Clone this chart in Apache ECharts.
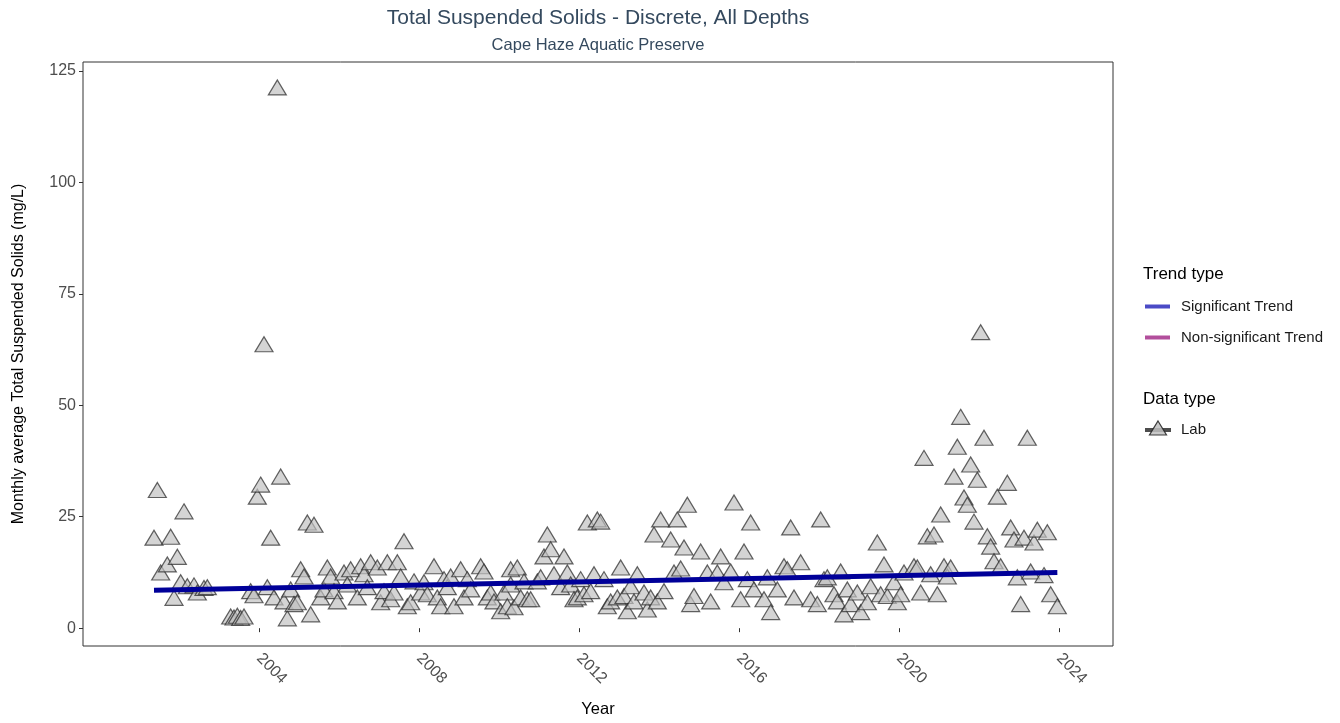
<!DOCTYPE html>
<html>
<head>
<meta charset="utf-8">
<title>Total Suspended Solids - Discrete, All Depths</title>
<script src="https://cdn.jsdelivr.net/npm/echarts@6/dist/echarts.min.js"></script>
<style>
  html, body { margin: 0; padding: 0; background: #ffffff; }
  #chart { width: 1340px; height: 723px; }
</style>
</head>
<body>
<div id="chart"></div>
<script>
// Monthly average TSS (mg/L), lab samples, Cape Haze Aquatic Preserve
const months = [
  '2001-05','2001-06','2001-07','2001-09','2001-10','2001-11','2001-12',
  '2002-01','2002-02','2002-03','2002-05','2002-06','2002-08','2002-09',
  '2003-04','2003-05','2003-06','2003-07','2003-08','2003-10','2003-11','2003-12',
  '2004-01','2004-02','2004-03','2004-04','2004-05','2004-06','2004-07','2004-08','2004-09','2004-10','2004-11','2004-12',
  '2005-01','2005-02','2005-03','2005-04','2005-05','2005-07','2005-08','2005-09','2005-10','2005-11','2005-12',
  '2006-02','2006-03','2006-04','2006-06','2006-07','2006-08','2006-09','2006-10','2006-12',
  '2007-01','2007-02','2007-03','2007-04','2007-05','2007-06','2007-07','2007-08','2007-09','2007-10','2007-11',
  '2008-01','2008-02','2008-03','2008-05','2008-06','2008-07','2008-08','2008-09','2008-10','2008-11',
  '2009-01','2009-02','2009-03','2009-04','2009-07','2009-08','2009-09','2009-10','2009-11',
  '2010-01','2010-02','2010-03','2010-04','2010-04','2010-05','2010-06','2010-07','2010-08','2010-09','2010-10','2010-12',
  '2011-01','2011-02','2011-03','2011-04','2011-05','2011-07','2011-08','2011-09','2011-10','2011-11','2011-12',
  '2012-01','2012-02','2012-03','2012-04','2012-05','2012-06','2012-07','2012-08','2012-09','2012-10','2012-12',
  '2013-01','2013-02','2013-03','2013-04','2013-05','2013-06','2013-08','2013-09','2013-10','2013-11','2013-12',
  '2014-01','2014-02','2014-04','2014-05','2014-06','2014-07','2014-08','2014-09','2014-10','2014-11',
  '2015-01','2015-03','2015-04','2015-06','2015-07','2015-08','2015-10','2015-11',
  '2016-01','2016-02','2016-03','2016-04','2016-05','2016-08','2016-09','2016-10','2016-12',
  '2017-02','2017-03','2017-04','2017-05','2017-07','2017-10','2017-12',
  '2018-01','2018-02','2018-03','2018-05','2018-06','2018-07','2018-08','2018-09','2018-10','2018-12',
  '2019-01','2019-03','2019-04','2019-06','2019-07','2019-08','2019-09','2019-11','2019-12',
  '2020-01','2020-02','2020-05','2020-06','2020-07','2020-08','2020-09','2020-10','2020-11','2020-12',
  '2021-01','2021-02','2021-03','2021-04','2021-05','2021-06','2021-07','2021-08','2021-09','2021-10','2021-11','2021-12',
  '2022-01','2022-02','2022-03','2022-04','2022-05','2022-06','2022-07','2022-09','2022-10','2022-11','2022-12',
  '2023-01','2023-02','2023-03','2023-04','2023-05','2023-06','2023-08','2023-09','2023-10','2023-12'
];
const tss = [
  20.3, 31.0, 12.5, 14.3, 20.5, 6.8, 16.0,
  10.3, 26.2, 9.4, 9.6, 8.0, 9.0, 9.2,
  2.6, 2.4, 2.8, 2.3, 2.6, 8.3, 7.4, 29.5,
  32.2, 63.7, 9.2, 20.3, 6.9, 121.3, 34.0, 6.0, 2.2, 8.7, 5.4, 5.8,
  13.2, 11.6, 23.7, 3.1, 23.2, 6.9, 8.7, 13.6, 11.6, 8.3, 6.0,
  12.5, 9.8, 13.2, 6.9, 13.9, 12.1, 9.2, 14.8, 13.6,
  5.8, 8.3, 14.8, 6.5, 8.0, 14.8, 11.6, 19.5, 4.9, 5.8, 10.5,
  8.0, 10.3, 7.6, 13.9, 6.9, 4.9, 11.0, 9.2, 11.6, 4.9,
  13.2, 6.9, 11.0, 8.7, 13.9, 12.7, 6.9, 8.0, 6.0,
  3.8, 8.0, 4.9, 13.2, 9.8, 4.7, 13.6, 6.9, 10.5, 6.5, 6.5, 10.5,
  11.4, 16.1, 21.0, 17.7, 12.1, 9.2, 16.1, 12.5, 9.8, 6.5, 6.9,
  11.0, 7.6, 23.7, 8.3, 12.1, 24.4, 23.9, 11.0, 4.9, 6.0, 6.9,
  13.6, 7.2, 3.8, 9.4, 6.0, 12.1, 8.0, 4.2, 6.9, 21.0, 6.0,
  24.4, 8.3, 19.9, 12.5, 24.4, 13.4, 18.1, 27.7, 5.4, 7.2,
  17.2, 12.5, 6.0, 12.5, 16.1, 10.3, 12.7, 28.2,
  6.5, 17.2, 11.0, 23.7, 8.7, 6.5, 11.4, 3.6, 8.7,
  13.9, 13.2, 22.6, 6.9, 14.8, 6.5, 5.4,
  24.4, 11.0, 11.4, 7.6, 6.0, 12.7, 3.1, 8.7, 5.4, 8.0,
  3.6, 5.8, 9.4, 19.2, 7.6, 14.3, 7.2, 10.3, 5.8,
  7.6, 12.5, 13.9, 13.6, 8.0, 38.2, 20.6, 12.1, 21.0, 7.6,
  25.5, 13.9, 11.6, 13.6, 34.0, 40.7, 47.4, 29.3, 27.7, 36.7, 23.9, 33.3,
  66.4, 42.7, 20.6, 18.3, 15.0, 29.5, 13.9, 32.6, 22.6, 19.9, 11.4,
  5.4, 20.3, 42.7, 12.7, 19.2, 22.1, 11.9, 21.5, 7.6, 4.9
];

// Fitted trend (significant), start and end of the record
const trendMonths = ['2001-05', '2023-12'];
const trendValues = [8.5, 12.5];

// Axis ticks
const yearTicks = [2004, 2008, 2012, 2016, 2020, 2024];
const valueTicks = [0, 25, 50, 75, 100, 125];

// "YYYY-MM" -> decimal year at mid-month
function toDecimalYear(s) {
  const [y, m] = s.split('-').map(Number);
  return y + (m - 0.5) / 12;
}

const labPoints = months.map((m, i) => [toDecimalYear(m), tss[i]]);
const trendPoints = trendMonths.map((m, i) => [toDecimalYear(m), trendValues[i]]);

const FONT = '"Liberation Sans", Arial, sans-serif';
const MARKER_FILL = 'rgba(192,192,192,0.85)';
const MARKER_EDGE = 'rgba(40,40,40,0.9)';
const chart = echarts.init(document.getElementById('chart'), null, { renderer: 'canvas' });

chart.setOption({
  backgroundColor: '#ffffff',
  animation: false,
  textStyle: { fontFamily: FONT },
  title: [
    {
      text: 'Total Suspended Solids - Discrete, All Depths',
      left: 598, top: 8, textAlign: 'center', padding: 0,
      textStyle: { fontFamily: FONT, fontSize: 21, fontWeight: 'normal', color: '#34495e' }
    },
    {
      text: 'Cape Haze Aquatic Preserve',
      left: 598, top: 37, textAlign: 'center', padding: 0,
      textStyle: { fontFamily: FONT, fontSize: 16.5, fontWeight: 'normal', color: '#34495e' }
    },
    {
      text: 'Trend type', left: 1143, top: 266, padding: 0,
      textStyle: { fontFamily: FONT, fontSize: 17, fontWeight: 'normal', color: '#000000' }
    },
    {
      text: 'Data type', left: 1143, top: 391, padding: 0,
      textStyle: { fontFamily: FONT, fontSize: 17, fontWeight: 'normal', color: '#000000' }
    }
  ],
  legend: [
    {
      orient: 'vertical', left: 1145, top: 299, itemGap: 16, padding: 0,
      icon: 'rect', itemWidth: 25, itemHeight: 4,
      textStyle: { fontFamily: FONT, fontSize: 15, color: '#1a1a1a', padding: [0, 0, 0, 6] },
      data: [
        { name: 'Significant Trend', itemStyle: { color: '#4b4bc6' } },
        { name: 'Non-significant Trend', itemStyle: { color: '#b24f9c' } }
      ]
    },
    {
      orient: 'vertical', left: 1145, top: 422, padding: 0,
      icon: 'rect', itemWidth: 25, itemHeight: 15,
      textStyle: { fontFamily: FONT, fontSize: 15, color: '#1a1a1a', padding: [0, 0, 0, 6] },
      data: [{ name: 'Lab', itemStyle: { color: 'rgba(0,0,0,0)', borderWidth: 0 } }]
    }
  ],
  // key glyph for the Lab entry: dark line with a triangle marker on it
  graphic: [
    {
      type: 'line', z: 10,
      shape: { x1: 1145, y1: 430, x2: 1171, y2: 430 },
      style: { stroke: '#4d4d4d', lineWidth: 4 }
    },
    {
      type: 'polygon', z: 11,
      shape: { points: [[1158, 421], [1166.5, 435], [1149.5, 435]] },
      style: { fill: MARKER_FILL, stroke: MARKER_EDGE, lineWidth: 1.2 }
    }
  ],
  grid: {
    left: 83, top: 62, width: 1030, height: 585,
    show: true, borderColor: '#333333', borderWidth: 1, backgroundColor: '#ffffff'
  },
  xAxis: {
    type: 'value',
    min: 1999.6, max: 2025.35,
    name: 'Year', nameLocation: 'middle', nameGap: 55,
    nameTextStyle: { fontFamily: FONT, fontSize: 16.5, color: '#000000' },
    axisLine: { show: false },
    splitLine: { show: false },
    axisTick: { show: true, length: 4, lineStyle: { color: '#333333' }, customValues: yearTicks },
    axisLabel: {
      customValues: yearTicks, rotate: -45, margin: 10,
      fontFamily: FONT, fontSize: 16, color: '#4d4d4d',
      formatter: v => String(Math.round(v))
    }
  },
  yAxis: {
    type: 'value',
    min: -4, max: 127,
    name: 'Monthly average Total Suspended Solids (mg/L)',
    nameLocation: 'middle', nameGap: 56, nameRotate: 90,
    nameTextStyle: { fontFamily: FONT, fontSize: 16, color: '#000000' },
    axisLine: { show: false },
    splitLine: { show: false },
    axisTick: { show: true, length: 4, lineStyle: { color: '#333333' }, customValues: valueTicks },
    axisLabel: {
      customValues: valueTicks, margin: 7,
      fontFamily: FONT, fontSize: 16, color: '#4d4d4d'
    }
  },
  series: [
    {
      name: 'Lab',
      type: 'scatter',
      data: labPoints,
      symbol: 'triangle',
      symbolSize: [18, 15],
      z: 2,
      itemStyle: { color: MARKER_FILL, borderColor: MARKER_EDGE, borderWidth: 1.2 },
      emphasis: { disabled: true }
    },
    {
      name: 'Significant Trend',
      type: 'line',
      data: trendPoints,
      symbol: 'none',
      z: 5,
      lineStyle: { color: '#000099', width: 5 },
      itemStyle: { color: '#000099' }
    },
    {
      name: 'Non-significant Trend',
      type: 'line',
      data: [],
      symbol: 'none',
      lineStyle: { color: '#b24f9c', width: 5 },
      itemStyle: { color: '#b24f9c' }
    }
  ]
});
</script>
</body>
</html>
